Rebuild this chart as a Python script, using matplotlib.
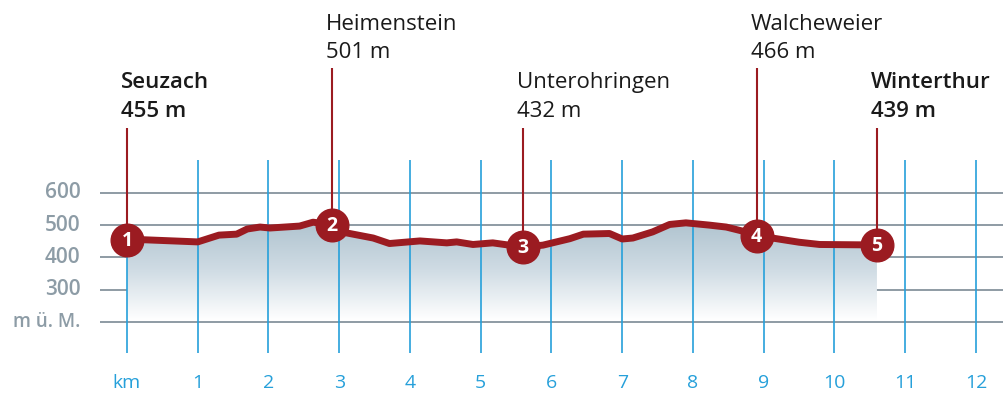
import numpy as np
import matplotlib
matplotlib.use("Agg")
import matplotlib.pyplot as plt
from matplotlib.colors import LinearSegmentedColormap

plt.rcParams["font.family"] = ["Open Sans", "DejaVu Sans"]

# Höhenprofil (km, m ü. M.)
profile_km = [0.0, 0.2, 1.0, 1.3, 1.55, 1.7, 1.88, 2.02, 2.44, 2.63, 2.9,
              3.1, 3.48, 3.71, 4.14, 4.52, 4.66, 4.89, 5.17, 5.6,
              5.88, 6.26, 6.45, 6.82, 7.0, 7.15, 7.43, 7.67, 7.9, 8.23,
              8.47, 8.69, 8.9, 9.12, 9.5, 9.79, 10.35, 10.6]
profile_m = [455, 455, 448, 469, 472, 488, 494, 491, 497, 509, 501,
             476, 460, 443, 451, 445, 448, 440, 445, 432,
             438, 458, 472, 474, 457, 460, 479, 502, 507, 500,
             494, 482, 466, 460, 447, 440, 439, 439]

# Stationen
stop_no = ["1", "2", "3", "4", "5"]
stop_km = [0.0, 2.9, 5.6, 8.9, 10.6]
stop_m = [455, 501, 432, 466, 439]
stop_name = ["Seuzach", "Heimenstein", "Unterohringen", "Walcheweier", "Winterthur"]
stop_bold = [True, False, False, False, True]
stop_high = [False, True, False, True, False]

y_ticks = [300, 400, 500, 600]
km_ticks = list(range(0, 13))
km_labels = ["km"] + [str(k) for k in km_ticks[1:]]

RED = "#9b1b21"
BLUE = "#26a0da"
GRID = "#8e9ba4"
TICK = "#8d9ca6"

fig = plt.figure(figsize=(10.04, 4.12), dpi=100)
ax = fig.add_axes([0, 0, 1, 1])
ax.axis("off")
ax.set_xlim(-1.795, 12.396)
ax.set_ylim(-78.6, 1196.9)

# Raster
ax.hlines([200] + y_ticks, -0.38, 12.4, color=GRID, lw=1.4, zorder=1)
ax.vlines(km_ticks, 104, 702, color=BLUE, lw=1.2, zorder=2)

# Verlaufsfläche
cmap = LinearSegmentedColormap.from_list("fade", ["#ffffff", "#d0dce4", "#afc3cf"])
grad = np.linspace(1, 0, 256).reshape(-1, 1)
poly = ax.fill_between(profile_km, profile_m, 200, color="none", lw=0)
img = ax.imshow(grad, cmap=cmap, aspect="auto", extent=[0, profile_km[-1], 205, 510],
                zorder=1.5, interpolation="bicubic")
img.set_clip_path(poly.get_paths()[0], transform=ax.transData)

ax.plot(profile_km, profile_m, color=RED, lw=5, solid_capstyle="round",
        solid_joinstyle="round", zorder=4)

# Beschriftung y
for v in y_ticks:
    ax.text(-0.66, v, str(v), ha="right", va="center", fontsize=15,
            color=TICK, fontweight="semibold")
ax.text(-0.66, 200, "m ü. M.", ha="right", va="center", fontsize=13.5,
        color=TICK, fontweight="semibold")

# Beschriftung x
for k, lab in zip(km_ticks, km_labels):
    ax.text(k, 11, lab, ha="center", va="center", fontsize=14,
            color=BLUE, fontweight="medium")

# Stationen
for no, k, m, name, bold, high in zip(stop_no, stop_km, stop_m, stop_name, stop_bold, stop_high):
    top = 986 if high else 800
    ax.vlines(k, m, top, color=RED, lw=1.5, zorder=3)
    ax.plot(k, m, "o", ms=23.5, color=RED, zorder=5)
    ax.text(k, m - 3, no, ha="center", va="center", fontsize=14, color="white",
            fontweight="bold", zorder=6)
    base = 1104 if high else 924
    w = "semibold" if bold else "normal"
    ax.text(k - 0.085, base, name, ha="left", va="baseline", fontsize=16,
            color="#1a1a1a", fontweight=w)
    ax.text(k - 0.085, base - 88, f"{m} m", ha="left", va="baseline", fontsize=16,
            color="#1a1a1a", fontweight=w)

fig.savefig("out.png", dpi=100)
